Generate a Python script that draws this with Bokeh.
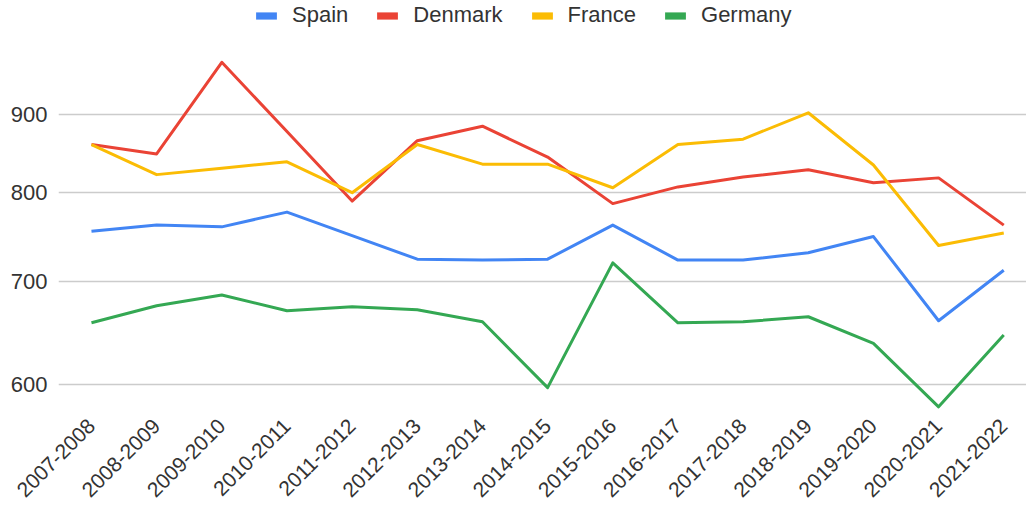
import math
from bokeh.plotting import figure
from bokeh.models import Range1d, FixedTicker, Legend, LegendItem, NumeralTickFormatter
from bokeh.embed import file_html
from bokeh.resources import INLINE

seasons = ["2007-2008", "2008-2009", "2009-2010", "2010-2011", "2011-2012",
           "2012-2013", "2013-2014", "2014-2015", "2015-2016", "2016-2017",
           "2017-2018", "2018-2019", "2019-2020", "2020-2021", "2021-2022"]
spain = [755, 762, 760, 777, 750, 724, 723, 724, 762, 723, 723, 731, 749, 660, 712]
denmark = [860, 848, 973, 877, 790, 865, 884, 844, 787, 807, 819, 828, 812, 818, 762]
france = [860, 822, 830, 838, 800, 860, 835, 835, 806, 860, 867, 902, 834, 739, 753]
germany = [658, 675, 686, 670, 674, 671, 659, 597, 720, 658, 659, 664, 638, 580, 646]
y_ticks = [600, 700, 800, 900]

series = [("Spain", spain, "#4285F4"), ("Denmark", denmark, "#EA4335"),
          ("France", france, "#FBBC04"), ("Germany", germany, "#34A853")]

FONT = "Liberation Sans"
TXT = "#333333"

xs = list(range(len(seasons)))

p = figure(width=1026, height=506, output_backend="svg", toolbar_location=None,
           y_axis_type="log",
           x_range=Range1d(-0.506, 14.349), y_range=Range1d(576.8, 1067.7),
           min_border_left=58, min_border_right=0, min_border_top=0, min_border_bottom=0,
           title=None)
p.outline_line_color = None
p.background_fill_color = "white"

swatches = []
for name, vals, col in series:
    p.line(xs, vals, line_color=col, line_width=3, line_join="round")
    nan = float("nan")
    q = p.quad(left=[nan], right=[nan], top=[nan], bottom=[nan], fill_color=col, line_color=None)
    swatches.append(LegendItem(label=name, renderers=[q]))

legend = Legend(items=swatches, orientation="horizontal", location=(195, 382),
                glyph_width=26, glyph_height=9, label_standoff=13, spacing=26,
                padding=0, margin=0, border_line_color=None, background_fill_alpha=0,
                label_text_font=FONT, label_text_font_size="22px", label_text_color=TXT,
                label_height=20)
p.add_layout(legend)

p.xaxis.ticker = FixedTicker(ticks=xs)
p.xaxis.major_label_overrides = {i: s for i, s in enumerate(seasons)}
p.xaxis.major_label_orientation = math.pi / 4
p.xaxis.axis_line_color = None
p.xaxis.major_tick_line_color = None
p.xaxis.minor_tick_line_color = None
p.xaxis.major_tick_out = 0
p.xaxis.major_label_standoff = 12
p.xaxis.major_label_text_font = FONT
p.xaxis.major_label_text_font_size = "21px"
p.xaxis.major_label_text_color = TXT
p.xgrid.visible = False

p.yaxis.ticker = FixedTicker(ticks=y_ticks)
p.yaxis.formatter = NumeralTickFormatter(format="0")
p.yaxis.major_label_overrides = {v: str(v) for v in y_ticks}
p.yaxis.axis_line_color = None
p.yaxis.major_tick_line_color = None
p.yaxis.minor_tick_line_color = None
p.yaxis.major_tick_out = 0
p.yaxis.major_label_standoff = 11
p.yaxis.major_label_text_font = FONT
p.yaxis.major_label_text_font_size = "22px"
p.yaxis.major_label_text_color = TXT
p.ygrid.ticker = FixedTicker(ticks=y_ticks)
p.ygrid.grid_line_color = "#cccccc"
p.ygrid.grid_line_width = 1.5

open("out.html", "w").write(file_html(p, INLINE))
